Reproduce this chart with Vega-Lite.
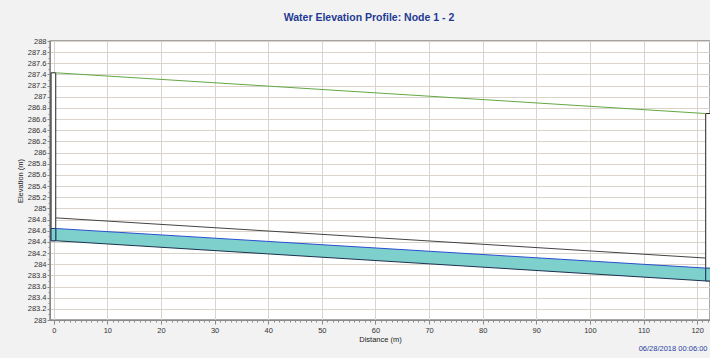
{
  "$schema": "https://vega.github.io/schema/vega-lite/v6.json",
  "width": 660,
  "height": 279,
  "autosize": {"type": "none"},
  "padding": {"left": 50, "top": 41, "right": 0, "bottom": 38},
  "background": "#f2f2f2",
  "view": {"fill": "white", "stroke": "#8a8a8a", "strokeWidth": 1.5},
  "title": {
    "text": "Water Elevation Profile: Node 1 - 2",
    "font": "Liberation Sans",
    "fontSize": 10.5,
    "fontWeight": "bold",
    "color": "#1f3a93",
    "anchor": "middle",
    "dx": -11,
    "offset": 14
  },
  "config": {
    "axis": {
      "labelFont": "Liberation Sans",
      "titleFont": "Liberation Sans",
      "labelFontSize": 7.5,
      "titleFontSize": 7.5,
      "titleFontWeight": "normal",
      "labelColor": "#333333",
      "titleColor": "#222222",
      "domainColor": "#8a8a8a",
      "tickColor": "#8a8a8a",
      "gridColor": "#d9d3ca",
      "gridOpacity": 1
    }
  },
  "datasets": {
    "profile": [
      {"x": 0.37, "ground": 287.43, "crown": 284.83, "water": 284.64, "invert": 284.42},
      {"x": 121.6, "ground": 286.70, "crown": 284.11, "water": 283.93, "invert": 283.70}
    ],
    "manholes": [
      {"node": "1", "x0": -0.5, "x1": 0.37, "bottom": 284.42, "top": 287.43, "water": 284.64},
      {"node": "2", "x0": 121.6, "x1": 122.8, "bottom": 283.70, "top": 286.70, "water": 283.93}
    ]
  },
  "layer": [
    {
      "layer": [
        {
          "data": {"name": "profile"},
          "mark": {"type": "area", "color": "#7dd0cb", "opacity": 1},
          "encoding": {
            "x": {"field": "x", "type": "quantitative", "scale": {"domain": [-0.7, 122.4], "nice": false, "zero": false},
              "axis": {"values": [0,5,10,15,20,25,30,35,40,45,50,55,60,65,70,75,80,85,90,95,100,105,110,115,120], "title": "Distance (m)", "titlePadding": 2, "tickSize": 4, "labelPadding": 2, "grid": true}},
            "y": {"field": "water", "type": "quantitative", "scale": {"domain": [283, 288], "nice": false, "zero": false},
              "axis": {"tickCount": 25, "format": ".4~r", "title": "Elevation (m)", "titlePadding": 3, "tickSize": 3, "labelPadding": 1, "grid": true}},
            "y2": {"field": "invert"}
          }
        },
        {
          "data": {"name": "manholes"},
          "mark": {"type": "rect", "fill": "white", "stroke": "#222222", "strokeWidth": 1, "clip": true},
          "encoding": {
            "x": {"field": "x0", "type": "quantitative"},
            "x2": {"field": "x1"},
            "y": {"field": "bottom", "type": "quantitative"},
            "y2": {"field": "top"}
          }
        },
        {
          "data": {"name": "manholes"},
          "mark": {"type": "rect", "fill": "#7dd0cb", "stroke": "#1d3a6a", "strokeWidth": 1, "clip": true},
          "encoding": {
            "x": {"field": "x0", "type": "quantitative"},
            "x2": {"field": "x1"},
            "y": {"field": "bottom", "type": "quantitative"},
            "y2": {"field": "water"}
          }
        },
        {
          "data": {"name": "profile"},
          "mark": {"type": "line", "color": "#2a4fcf", "strokeWidth": 1},
          "encoding": {
            "x": {"field": "x", "type": "quantitative"},
            "y": {"field": "water", "type": "quantitative"}
          }
        },
        {
          "data": {"name": "profile"},
          "mark": {"type": "line", "color": "#1d3050", "strokeWidth": 1},
          "encoding": {
            "x": {"field": "x", "type": "quantitative"},
            "y": {"field": "invert", "type": "quantitative"}
          }
        },
        {
          "data": {"name": "profile"},
          "mark": {"type": "line", "color": "#444444", "strokeWidth": 1},
          "encoding": {
            "x": {"field": "x", "type": "quantitative"},
            "y": {"field": "crown", "type": "quantitative"}
          }
        },
        {
          "data": {"name": "profile"},
          "mark": {"type": "line", "color": "#63a844", "strokeWidth": 1},
          "encoding": {
            "x": {"field": "x", "type": "quantitative"},
            "y": {"field": "ground", "type": "quantitative"}
          }
        }
      ]
    },
    {
      "data": {"name": "profile"},
      "mark": {"type": "point", "opacity": 0},
      "encoding": {
        "x": {"field": "x", "type": "quantitative",
          "axis": {"orient": "bottom", "tickCount": 123, "labels": false, "grid": false, "domain": false, "tickSize": 2,
            "title": "06/28/2018 00:06:00", "titleColor": "#2b3f9f", "titleFontSize": 7.5, "titleAnchor": "end", "titleAlign": "right", "titleBaseline": "alphabetic", "titleX": 657, "titleY": 30}},
        "y": {"field": "ground", "type": "quantitative",
          "axis": {"orient": "left", "tickCount": 50, "labels": false, "grid": false, "domain": false, "tickSize": 2, "title": null}}
      }
    }
  ],
  "resolve": {"axis": {"x": "independent", "y": "independent"}}
}
